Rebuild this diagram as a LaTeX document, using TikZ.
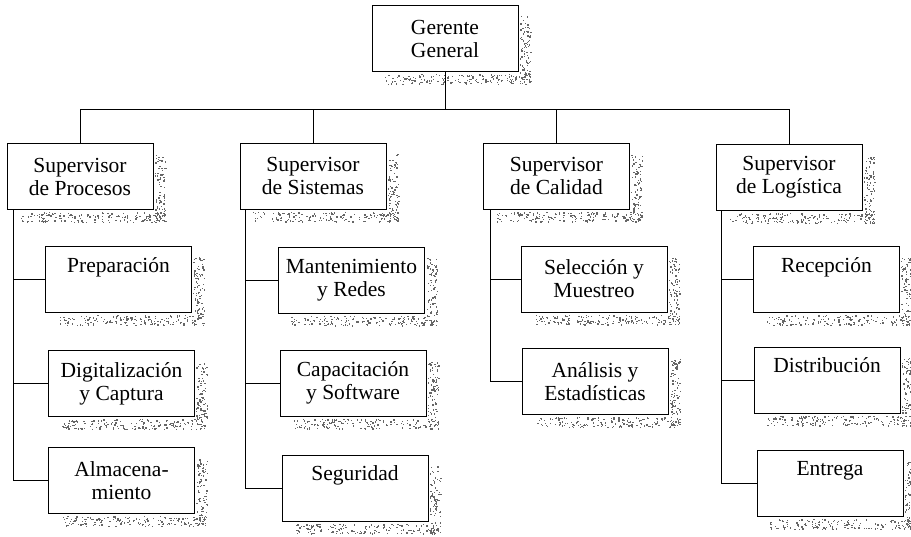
\documentclass[tikz,border=0pt]{standalone}
\usepackage{fontspec}
\setmainfont{Liberation Serif}
\usetikzlibrary{calc}

% grainy drop shadow to the right of and below a box
\newcommand\speckle[1]{%
  \begin{scope}[shift={(#1.south east)}]
    \foreach \k in {1,...,90}{\fill[grain] ({1+11*rnd},{-56+68*rnd}) rectangle +(1.3,1.3);}
    \foreach \k in {1,...,160}{\fill[grain] ({-134+146*rnd},{2+10*rnd}) rectangle +(1.3,1.3);}
  \end{scope}}

\begin{document}
\begin{tikzpicture}[x=1pt,y=-1pt,
  unit/.style={draw=black,line width=1pt,fill=white,minimum width=146pt,
    minimum height=66pt,inner sep=0pt,align=center,
    font=\fontsize{21.5}{23}\selectfont},
  link/.style={draw=black,line width=0.9pt},
  grain/.style={fill=black!60}]
\useasboundingbox (0,0) rectangle (911,536);
\pgfmathsetseed{2024}

% top
\node[unit] (G) at (445,38.5) {Gerente\\General};

% supervisors
\node[unit] (SP) at (80,176.5)  {Supervisor\\de Procesos};
\node[unit] (SS) at (313,176)   {Supervisor\\de Sistemas};
\node[unit] (SC) at (556.5,176) {Supervisor\\de Calidad};
\node[unit] (SL) at (789,177.5) {Supervisor\\de Logística};

% Procesos
\node[unit] (P1) at (118.5,279.5) {Preparación\\\strut};
\node[unit] (P2) at (121.5,383.5) {Digitalización\\y Captura};
\node[unit] (P3) at (121.5,480.5) {Almacena-\\miento};

% Sistemas
\node[unit] (S1) at (351.5,280) {Mantenimiento\\y Redes};
\node[unit] (S2) at (353,383)   {Capacitación\\y Software};
\node[unit] (S3) at (355,488)   {Seguridad\\\strut};

% Calidad
\node[unit] (C1) at (594,279)   {Selección y\\Muestreo};
\node[unit] (C2) at (595,381.5) {Análisis y\\Estadísticas};

% Logística
\node[unit] (L1) at (826.5,279.5) {Recepción\\\strut};
\node[unit] (L2) at (827,380)     {Distribución\\\strut};
\node[unit] (L3) at (830,483.5)   {Entrega\\\strut};

% shadows
\foreach \n in {G,SP,SS,SC,SL,P1,P2,P3,S1,S2,S3,C1,C2,L1,L2,L3}{\speckle{\n}}

% bus from the manager to the supervisors
\coordinate (busL) at (80,109);
\coordinate (busR) at (790,109);
\draw[link] (busL) -- (busR);
\draw[link] (G.south) -- (G.south |- busL);
\foreach \s in {SP,SS,SC,SL}{\draw[link] (\s.north) -- (\s.north |- busL);}

% spines and branches under each supervisor
\coordinate (spP) at ($(SP.south west)+(7,0)$);
\coordinate (spS) at ($(SS.south west)+(6,0)$);
\coordinate (spC) at ($(SC.south west)+(7,0)$);
\coordinate (spL) at ($(SL.south west)+(6,0)$);

\draw[link] (spP) -- (spP |- P3.west) -- (P3.west);
\draw[link] (spP |- P1.west) -- (P1.west);
\draw[link] (spP |- P2.west) -- (P2.west);

\draw[link] (spS) -- (spS |- S3.west) -- (S3.west);
\draw[link] (spS |- S1.west) -- (S1.west);
\draw[link] (spS |- S2.west) -- (S2.west);

\draw[link] (spC) -- (spC |- C2.west) -- (C2.west);
\draw[link] (spC |- C1.west) -- (C1.west);

\draw[link] (spL) -- (spL |- L3.west) -- (L3.west);
\draw[link] (spL |- L1.west) -- (L1.west);
\draw[link] (spL |- L2.west) -- (L2.west);
\end{tikzpicture}
\end{document}
